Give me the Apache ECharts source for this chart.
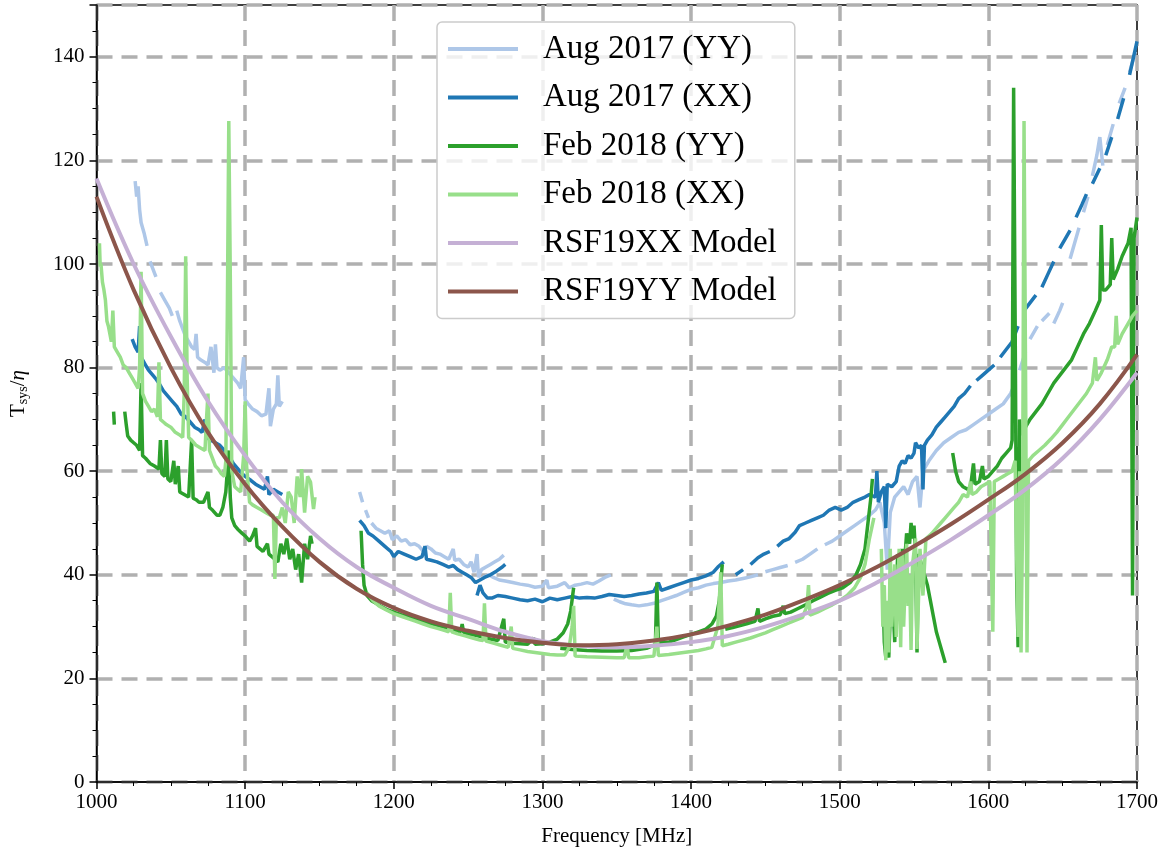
<!DOCTYPE html>
<html>
<head>
<meta charset="utf-8">
<script src="https://cdn.jsdelivr.net/npm/echarts@6/dist/echarts.min.js"></script>
<style>
  html, body { margin: 0; padding: 0; background: #fff; }
  #tsys-chart { width: 1162px; height: 852px; }
</style>
</head>
<body>
<div id="tsys-chart"></div>
<script>
// measured system temperature over efficiency, [frequency MHz, Tsys/eta], null = flagged gap
var augYY = [
  [1026,116],[1027,113],[1028,115],[1029,110.5],[1030,108],[1032,106],[1034,103.5],[1035,null],
  [1036,100.5],[1038,99],[1040,97.5],[1041,null],
  [1043,94.5],[1046,93],[1049,91.5],[1051,90],[1052,null],
  [1054,91],[1056,89],[1058,87.5],[1060,86],[1062,85],[1064,84],[1066,83.5],[1067,86.5],[1068,82],[1070,81.5],
  [1073,81],[1075,80.5],[1077,84],[1079,79],[1080,84.5],[1081,80],[1083,79.5],[1086,80],[1089,79],[1092,78],
  [1095,77],[1097,76],[1099,82],[1100,73.8],[1102,73],[1105,72],[1108,71.5],[1111,70.7],[1114,71],[1116,76],
  [1117,68.7],[1119,72],[1121,73],[1122,78.5],[1123,72.5],[1125,73.5],[1126,null],
  [1177,56],[1179,54],[1180,null],[1181,52.5],[1183,51],[1184,null],
  [1185,50],[1188,49],[1191,48.5],[1194,48],[1197,48.5],[1199,46.8],[1202,47.5],[1205,46.5],[1208,46.8],
  [1211,45.8],[1214,46],[1217,45.5],[1220,44.5],[1222,45.5],[1225,45],[1228,44.2],[1231,44],[1234,43.5],
  [1237,43],[1240,45],[1241,42.8],[1244,43],[1247,42],[1250,41.5],[1252,42.5],[1254,40.5],[1256,44],
  [1257,39.5],[1259,41],[1262,41.5],[1265,42],[1268,42.5],[1271,43],[1274,43.8],[1275,null],
  [1260,39.5],[1264,40],[1267,39.5],[1271,39],[1275,38.8],[1280,38.5],[1285,38.2],[1290,38],[1295,37.6],
  [1300,37.8],[1303,39],[1304,37.5],[1310,37.8],[1315,38.5],[1318,37.5],[1322,38],[1326,38.2],[1330,38.5],
  [1334,38.2],[1338,38.8],[1342,39.5],[1346,40],[1347,null],
  [1348,35.3],[1352,34.8],[1356,34.4],[1360,34.2],[1365,34],[1370,34.2],[1375,34.5],[1380,35],[1385,35.5],
  [1390,36],[1395,36.6],[1400,37.2],[1405,37.5],[1410,38],[1415,38.3],[1420,38.5],[1425,38.8],[1430,39],
  [1435,39.3],[1440,39.6],[1445,40],[1448,null],[1450,40.6],[1455,41],[1460,41.4],[1465,41.8],[1468,null],
  [1470,42.4],[1475,43],[1480,44],[1485,45],[1488,null],[1490,45.8],[1495,46.5],[1500,47.5],[1505,48.5],
  [1510,49.5],[1515,50.5],[1520,51.5],[1524,52.5],[1527,54],[1530,50],[1532,41],[1534,52],[1537,55],
  [1540,56],[1543,57],[1546,55.5],[1549,58],[1552,59],[1554,53],[1556,60],[1560,62],[1565,64],[1570,65.5],
  [1575,66.5],[1580,67.5],[1585,68],[1590,69],[1595,70],[1600,71],[1605,72],[1610,73],[1615,75],[1618,77],
  [1619,null],[1621,79.5],[1625,83],[1626,null],[1628,85.5],[1633,88],[1634,null],[1636,89],[1641,90.5],
  [1642,null],[1644,88.5],[1648,91],[1650,92.5],[1651,null],
  [1655,101],[1658,104],[1661,107],[1662,null],[1664,110],[1667,113],[1668,null],[1670,117],[1673,121],
  [1675,124.5],[1677,119],[1678,null],[1680,123],[1684,127],[1685,null],[1688,131],[1692,134],[1693,null],
  [1695,137],[1699,141]
];

var augXX = [
  [1024,85.5],[1026,84],[1028,83],[1029,88],[1030,82],[1033,80.5],[1035,79.5],[1038,78.5],[1040,77.8],
  [1042,77],[1045,75.5],[1048,74.5],[1051,73.5],[1054,72.5],[1057,71],[1060,70.5],[1063,69.5],[1066,68.5],
  [1069,68],[1071,67.5],[1073,70],[1074,66.5],[1077,66],[1080,65.5],[1083,65],[1086,64],[1089,63],
  [1092,61.5],[1095,60.5],[1098,59.5],[1101,58.8],[1104,58.2],[1107,57.5],[1110,57],[1113,56.5],[1115,59],
  [1116,55.5],[1119,56.5],[1122,56],[1125,55.5],[1126,null],
  [1175,52],[1176,null],[1177,50.5],[1180,49.5],[1183,48],[1186,47.5],[1190,46.5],[1194,45.5],[1198,44.5],
  [1200,43.5],[1203,44.5],[1207,44],[1211,43.5],[1215,43],[1219,43.5],[1221,45.5],[1222,43],[1225,42.8],
  [1229,42.5],[1233,42],[1237,41.5],[1240,41.8],[1243,41],[1246,40.5],[1249,40],[1252,39.5],[1255,38.5],
  [1258,39],[1261,39.5],[1265,40],[1269,40.7],[1273,41.5],[1275,42],[1276,null],
  [1256,36],[1258,38],[1260,36.5],[1263,35.5],[1266,35.5],[1270,36],[1275,35.8],[1280,35.5],[1285,35.2],
  [1290,35],[1295,35.3],[1300,34.8],[1305,35.5],[1310,35.2],[1315,35.5],[1320,35.8],[1325,35.5],[1330,35.6],
  [1335,35.5],[1340,35.8],[1345,36.2],[1350,36],[1355,35.8],[1360,36],[1365,36.3],[1370,36.5],[1375,36.8],
  [1378,38.5],[1380,37],[1385,37.5],[1390,38],[1395,38.5],[1400,39],[1405,39.3],[1410,39.8],[1415,40.5],
  [1418,41.5],[1422,42.5],[1424,null],
  [1430,40],[1435,41],[1438,null],[1440,42],[1445,43.3],[1449,44],[1453,44.5],[1456,null],[1458,45.5],
  [1462,46.5],[1466,47],[1470,48.2],[1473,49.5],[1477,50],[1481,50.5],[1485,51],[1489,51.5],[1493,52.5],
  [1497,53],[1501,52.5],[1505,53],[1509,54],[1513,54.5],[1517,55],[1520,55.5],[1524,55],[1525,60],
  [1526,54],[1528,56],[1530,57],[1531,49],[1532,57.5],[1535,57],[1538,58],[1540,61],[1542,62],[1544,61.5],
  [1546,63],[1548,62.5],[1550,63.5],[1551,65.5],[1553,64.5],[1555,65],[1556,56.5],[1557,65],[1559,66],
  [1562,67],[1565,68.5],[1568,69.5],[1571,70.5],[1574,71.5],[1577,72.5],[1580,74],[1584,75],[1588,76.5],
  [1590,null],[1592,77.5],[1596,78.5],[1600,79.5],[1604,80.5],[1606,null],[1608,82],[1612,83.5],[1616,85],
  [1620,88],[1622,null],[1624,91],[1628,92.5],[1632,94],[1634,null],[1636,95.5],[1640,98],[1644,100.5],
  [1646,null],[1648,103],[1652,105],[1655,106.5],[1657,null],[1659,109],[1663,111.5],[1666,113.5],
  [1668,null],[1670,115.5],[1675,118.5],[1677,null],[1679,121],[1683,124.5],[1685,null],[1687,128],
  [1691,132],[1693,null],[1695,136.5],[1700,143]
];

var febYY = [
  [1011.5,71.5],[1012,69],[1013,null],
  [1019,71.5],[1020,69],[1021,66.8],[1023,66],[1025,65.5],[1027,65],[1029,64],[1030,77],[1031,63],
  [1033,62.5],[1036,61.5],[1039,61],[1042,60.4],[1043,66],[1044,59.5],[1046,59],[1047,66],[1048,58.5],
  [1050,58],[1052,62],[1053,57.5],[1055,61],[1056,56],[1059,55.5],[1062,55],[1064,66],[1065,54.8],
  [1067,54.5],[1069,54],[1072,54],[1075,56],[1076,53],[1078,52.5],[1081,51.5],[1083,51.5],[1085,53],
  [1087,56],[1088,60],[1089,64],[1090,55],[1091,51],[1093,49.5],[1095,48.8],[1098,48],[1100,47.5],
  [1103,46.5],[1105,47.5],[1107,49],[1108,45.5],[1110,45],[1112,44.5],[1115,46],[1116,44],[1118,43.5],
  [1120,43],[1122,42.5],[1124,46],[1126,44],[1128,47],[1130,43],[1132,45],[1134,41],[1136,44],[1138,38.5],
  [1140,46],[1142,43],[1144,47.5],[1145,46],[1146,null],
  [1178,48.5],[1179,42],[1180,38],[1182,36],[1185,35],[1188,34.5],[1192,33.8],[1196,33.2],[1200,32.8],
  [1205,32.3],[1210,32],[1215,31.5],[1220,31],[1225,30.6],[1230,30.2],[1235,29.8],[1240,29.4],[1245,29],
  [1246,30.5],[1247,28.9],[1250,28.6],[1255,28.3],[1260,28],[1265,27.6],[1270,27.3],[1274,31.5],[1275,27],
  [1280,26.8],[1285,26.7],[1290,26.6],[1294,27.8],[1295,26.6],[1300,26.7],[1305,27],[1310,27.6],
  [1314,28.8],[1317,30.5],[1319,33],[1321,37.5],[1322,null],
  [1312,25.8],[1320,25.6],[1330,25.4],[1340,25.3],[1350,25.3],[1360,25.4],[1370,25.8],[1376,26.5],
  [1377,38.5],[1378,27],[1385,27],[1390,27.5],[1395,28],[1400,28.5],[1405,29],[1410,29.5],[1414,30.5],
  [1417,32],[1419,35],[1421,42],[1422,null],
  [1423,29.5],[1428,29.8],[1433,30.2],[1438,30.6],[1443,31],[1445,33.5],[1446,31],[1450,31.5],[1455,32],
  [1460,32.3],[1462,34],[1463,32.5],[1467,32.8],[1472,33.5],[1477,34.2],[1482,35],[1487,35.7],[1492,36.4],
  [1497,37],[1502,37.5],[1507,38.5],[1511,40],[1514,42],[1517,45],[1519,50],[1521,55],[1522,58.5],[1523,null],
  [1529,38],[1530,27],[1531,24],[1532,30],[1533,24],[1535,40],[1537,27],[1539,44],[1540,33],[1542,45],
  [1543,40],[1545,48],[1547,46],[1548,50],[1549,47],[1550,49.5],[1551,44],[1552,25],[1553,44],[1555,42],
  [1557,40],[1559,38],[1561,35],[1563,32],[1565,29],[1567,27],[1569,25],[1571,23],[1572,null],
  [1576,63.5],[1578,60],[1580,58],[1583,57],[1586,56.5],[1588,57],[1590,61.5],[1591,57.5],[1594,58],
  [1596,61],[1597,58.5],[1600,59],[1603,60],[1606,61],[1609,62.5],[1612,63.5],[1615,64.5],[1616,66],
  [1617,134],[1618,90],[1619,40],[1620,26],[1621,70],[1622,67],[1625,68.5],[1628,70],[1632,71.5],
  [1636,73],[1640,75],[1644,77],[1648,78.5],[1652,80],[1656,81.5],[1660,84],[1664,86.5],[1668,88.5],
  [1672,91],[1675,93],[1676,107.5],[1677,95],[1679,95],[1682,96],[1683,105],[1684,97],[1687,99],
  [1690,101.5],[1694,104],[1696,107],[1697,36],[1698,105],[1700,109]
];

var febXX = [
  [1002,104],[1002.5,99.5],[1003,100],[1004,96.5],[1005,95],[1006,93],[1007,89],[1008,88],[1010,85],
  [1011,91],[1012,84],[1014,83],[1016,82],[1018,80.5],[1020,80],[1022,79],[1024,78],[1026,77],[1028,76],
  [1029,80],[1030,98.5],[1031,75],[1033,73.5],[1035,72.5],[1037,71.5],[1039,72],[1041,70.5],[1042,81],
  [1043,70],[1045,69.5],[1047,69],[1050,68.5],[1053,67.5],[1056,67],[1058,66.5],[1059,75],[1060,101.5],
  [1061,78],[1062,66.5],[1064,66],[1067,65],[1070,64.5],[1073,64],[1074,70],[1075,75],[1076,64],
  [1078,62.5],[1080,61],[1082,60.4],[1084,59.5],[1086,59],[1087,62],[1088,90],[1089,127.6],[1090,98],
  [1091,60],[1093,57],[1095,56.5],[1097,56],[1099,63],[1100,73.5],[1101,61],[1103,54],[1105,53.5],
  [1108,53],[1111,52.5],[1114,52],[1117,51.5],[1119,51.5],[1120,39.2],[1121,51],[1123,51],[1125,53],
  [1127,50],[1129,56],[1131,55],[1133,50],[1135,59],[1137,55],[1138,60.4],[1140,52],[1142,59],
  [1144,57.9],[1146,52.7],[1147,55],[1148,null],
  [1182,36.5],[1186,35],[1190,34],[1195,33.2],[1200,32.5],[1205,32],[1210,31.5],[1215,31],[1220,30.5],
  [1225,30],[1230,29.6],[1235,29.2],[1237,29],[1238,36.5],[1239,29],[1243,28.6],[1248,28.2],[1253,27.8],
  [1258,27.4],[1260,27.3],[1261,34.5],[1262,27.2],[1267,26.8],[1272,26.4],[1277,26],[1279,30],[1280,25.8],
  [1285,25.5],[1290,25.2],[1295,25],[1300,24.8],[1305,24.6],[1310,24.5],[1315,24.5],[1318,26],[1320,30],
  [1321,34],[1322,24.3],[1330,24.2],[1340,24.1],[1350,24],[1355,24],[1357,26.5],[1358,24],[1365,24],
  [1370,24.2],[1375,24.3],[1377,30],[1378,24.4],[1385,24.6],[1390,24.8],[1395,25],[1400,25.2],[1405,25.4],
  [1410,25.7],[1414,26],[1418,30],[1420,40.5],[1421,26.3],[1425,26.6],[1430,27],[1435,27.4],[1440,27.8],
  [1445,28.3],[1450,28.8],[1455,29.4],[1460,30],[1465,30.6],[1470,31.2],[1475,31.8],[1478,34],[1479,38],
  [1480,32.2],[1485,32.8],[1490,33.5],[1495,34.2],[1500,35],[1505,36],[1510,37.5],[1514,39.5],[1517,42],
  [1520,47],[1523,51],[1524,null],
  [1528,45],[1529,30],[1530,38],[1531,23.5],[1532,35],[1533,25],[1534,45],[1535,30],[1537,42],[1538,28],
  [1540,45],[1541,26],[1542,44],[1543,30],[1545,46],[1546,34],[1547,40],[1548,25.5],[1549,42],[1551,47],
  [1552,25.7],[1554,45],[1556,36],[1558,47],[1560,47.5],[1562,48],[1565,49],[1568,50],[1571,51],[1574,52],
  [1577,53],[1580,54],[1583,55.5],[1586,55],[1588,58],[1589,55.5],[1592,56],[1595,57],[1598,57.5],
  [1601,58],[1603,29],[1604,58],[1607,58.5],[1610,59],[1613,59.5],[1616,60],[1618,62],[1619,45],[1620,28],
  [1621,60],[1622,25],[1623,50],[1624,127.6],[1625,80],[1626,25],[1627,62],[1630,63],[1634,64],[1638,65],
  [1642,66.2],[1646,67.5],[1650,69],[1654,70.5],[1658,72],[1662,73.5],[1666,75],[1670,77],[1672,82],
  [1673,77.5],[1676,79],[1680,81.5],[1683,84],[1685,84],[1686,90],[1687,84.5],[1690,86.5],[1694,88.5],
  [1697,90],[1700,91]
];

// receiver models, sampled every 25 MHz
var modelFreq = [1000,1025,1050,1075,1100,1125,1150,1175,1200,1225,1250,1275,1300,1325,1350,
                 1375,1400,1425,1450,1475,1500,1525,1550,1575,1600,1625,1650,1675,1700];
var rsfXX = [116.5,100,86,73.5,63,54,47,41.5,37.5,34,31.5,29,27.2,26.3,26,
             26.3,27,28.2,30,32.3,35,38.5,42.5,46.8,51.5,56.5,62.5,70,79];
var rsfYY = [113,95,80,67.5,57.5,49.3,42.5,37.3,33.6,31,29.2,27.8,26.9,26.4,26.6,
             27.3,28.5,30.2,32.3,35,38,41.5,45.5,49.8,54.5,59.5,65.5,73,82.5];

var seriesNames = ['Aug 2017 (YY)', 'Aug 2017 (XX)', 'Feb 2018 (YY)', 'Feb 2018 (XX)', 'RSF19XX Model', 'RSF19YY Model'];
var seriesColors = ['#aec7e8', '#1f77b4', '#2ca02c', '#98df8a', '#c5b0d5', '#8c564b'];

var serif = 'Liberation Serif';
var gridLine = { color: '#b0b0b0', width: 3.5, type: [16, 9] };

function zipModel(vals) {
    return modelFreq.map(function(f, i) { return [f, vals[i]]; });
}

var measured = [augYY, augXX, febYY, febXX];

var series = measured.map(function(d, i) {
    return {
        name: seriesNames[i],
        type: 'line',
        data: d,
        symbol: 'none',
        showSymbol: false,
        connectNulls: false,
        lineStyle: { color: seriesColors[i], width: 3.5 },
        itemStyle: { color: seriesColors[i] },
        z: 2 + i
    };
});

[rsfXX, rsfYY].forEach(function(v, k) {
    var i = 4 + k;
    series.push({
        name: seriesNames[i],
        type: 'line',
        data: zipModel(v),
        smooth: 0.4,
        symbol: 'none',
        showSymbol: false,
        lineStyle: { color: seriesColors[i], width: 4 },
        itemStyle: { color: seriesColors[i] },
        z: 2 + i
    });
});

var chart = echarts.init(document.getElementById('tsys-chart'));

chart.setOption({
    animation: false,
    backgroundColor: '#fff',
    textStyle: { fontFamily: serif, color: '#000' },
    grid: {
        left: 95, right: 25, top: 5, bottom: 69,
        show: true, borderColor: '#000', borderWidth: 1.5, backgroundColor: 'transparent'
    },
    legend: {
        data: seriesNames,
        orient: 'vertical',
        left: 437,
        top: 22,
        icon: 'rect',
        itemWidth: 70,
        itemHeight: 4,
        itemGap: 12.5,
        padding: [9, 18, 9, 11],
        backgroundColor: 'rgba(255,255,255,0.8)',
        borderColor: '#cccccc',
        borderWidth: 1.5,
        borderRadius: 5,
        selectedMode: false,
        textStyle: {
            fontFamily: serif,
            fontSize: 33,
            lineHeight: 36,
            color: '#000',
            padding: [0, 0, 0, 20]
        }
    },
    xAxis: {
        type: 'value',
        min: 1000,
        max: 1700,
        interval: 100,
        name: 'Frequency [MHz]',
        nameLocation: 'middle',
        nameGap: 44,
        nameTextStyle: { fontFamily: serif, fontSize: 21, color: '#000' },
        axisLine: { show: true, lineStyle: { color: '#000', width: 1.5 } },
        axisTick: { show: true, length: 7, lineStyle: { color: '#000', width: 1.5 } },
        minorTick: { show: true, splitNumber: 4, length: 4, lineStyle: { color: '#000', width: 1 } },
        axisLabel: {
            fontFamily: serif, fontSize: 21, color: '#000', margin: 10,
            formatter: function(v) { return String(v); }
        },
        splitLine: { show: true, lineStyle: gridLine }
    },
    yAxis: {
        type: 'value',
        min: 0,
        max: 150,
        interval: 20,
        name: '{a|T}{b|sys}{a|/}{c|η}',
        nameLocation: 'middle',
        nameGap: 66,
        nameTextStyle: {
            rich: {
                a: { fontFamily: serif, fontSize: 21, color: '#000' },
                b: { fontFamily: serif, fontSize: 14, color: '#000', padding: [10, 0, 0, 0] },
                c: { fontFamily: serif, fontSize: 21, color: '#000', fontStyle: 'italic' }
            }
        },
        axisLine: { show: true, lineStyle: { color: '#000', width: 1.5 } },
        axisTick: { show: true, length: 7, lineStyle: { color: '#000', width: 1.5 } },
        minorTick: { show: true, splitNumber: 4, length: 4, lineStyle: { color: '#000', width: 1 } },
        axisLabel: { fontFamily: serif, fontSize: 21, color: '#000', margin: 12, showMaxLabel: false },
        splitLine: { show: true, lineStyle: gridLine }
    },
    series: series
});
</script>
</body>
</html>
